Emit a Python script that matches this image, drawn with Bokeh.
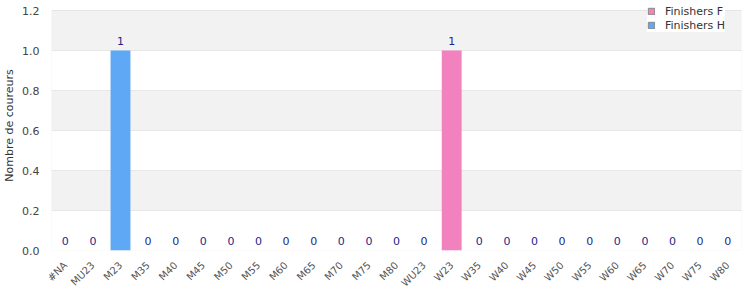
from bokeh.plotting import figure
from bokeh.models import (ColumnDataSource, FactorRange, Range1d, Legend, LegendItem, BoxAnnotation,
                          FixedTicker, NumeralTickFormatter)
from bokeh.core.properties import value
from bokeh.embed import file_html
from bokeh.resources import INLINE
import math

categories = ["#NA", "MU23", "M23", "M35", "M40", "M45", "M50", "M55", "M60", "M65", "M70", "M75", "M80",
              "WU23", "W23", "W35", "W40", "W45", "W50", "W55", "W60", "W65", "W70", "W75", "W80"]
finishers_h = [0, 0, 1, 0, 0, 0, 0, 0, 0, 0, 0, 0, 0, 0, 0, 0, 0, 0, 0, 0, 0, 0, 0, 0, 0]
finishers_f = [0, 0, 0, 0, 0, 0, 0, 0, 0, 0, 0, 0, 0, 0, 1, 0, 0, 0, 0, 0, 0, 0, 0, 0, 0]
y_ticks = [0.0, 0.2, 0.4, 0.6, 0.8, 1.0, 1.2]

totals = [h + f for h, f in zip(finishers_h, finishers_f)]
source = ColumnDataSource(dict(cat=categories, H=finishers_h, F=finishers_f,
                               total=totals, label=[str(t) for t in totals]))

p = figure(width=750, height=300, x_range=FactorRange(*categories, range_padding=0),
           y_range=Range1d(0, 1.25), output_backend="svg", toolbar_location=None,
           min_border_left=50, min_border_right=9, min_border_top=0, min_border_bottom=50)
# a range that maps none of the categories: used only by the legend swatch renderers
p.extra_x_ranges = {"legend": FactorRange(factors=["legend-only"])}

for lo, hi in [(0.2, 0.4), (0.6, 0.8), (1.0, 1.2)]:
    p.add_layout(BoxAnnotation(bottom=lo, top=hi, fill_color="#f2f2f2", fill_alpha=1, line_alpha=0, level="underlay"))
p.add_layout(BoxAnnotation(bottom=0, top=1.2, fill_alpha=0, line_color="#dddddd", line_width=1, level="underlay"))

r = p.vbar_stack(["H", "F"], x="cat", width=0.72, source=source,
                 fill_color=["#5fa8f5", "#f282bd"], line_color=None)

p.text(x="cat", y="total", text="label", source=source, text_align="center", text_baseline="bottom",
       y_offset=-6, text_font_size="11px", text_color="#1f1f8a", text_font=value("DejaVu Sans"))

lf = p.vbar(x="cat", top="F", width=0.72, source=source, x_range_name="legend",
            fill_color="#f282bd", line_color="#888888")
lh = p.vbar(x="cat", top="H", width=0.72, source=source, x_range_name="legend",
            fill_color="#5fa8f5", line_color="#888888")

p.yaxis.ticker = FixedTicker(ticks=y_ticks)
p.yaxis.formatter = NumeralTickFormatter(format="0.0")
p.yaxis.axis_label = "Nombre de coureurs"
p.yaxis.axis_label_text_font_size = "11px"
p.yaxis.axis_label_text_font_style = "normal"
p.yaxis.axis_label_text_color = "#333333"
p.yaxis.axis_label_text_font = "DejaVu Sans"
p.yaxis.axis_label_standoff = 3
p.yaxis.major_label_standoff = 6
for ax in [p.xaxis[0], p.yaxis[0]]:
    ax.axis_line_color = None
    ax.major_tick_line_color = None
    ax.minor_tick_line_color = None
    ax.major_label_text_font_size = "11px"
    ax.major_label_text_color = "#444444"
    ax.major_label_text_font = "DejaVu Sans"
p.xaxis.major_label_orientation = math.pi / 4
p.xaxis.major_label_text_font_size = "10px"
p.xaxis.major_label_text_color = "#555555"
p.xaxis.major_label_standoff = 7

p.xgrid.grid_line_color = None
p.ygrid.grid_line_color = "#dddddd"
p.outline_line_color = None
p.background_fill_color = "white"

legend = Legend(items=[LegendItem(label="Finishers F", renderers=[lf]),
                       LegendItem(label="Finishers H", renderers=[lh])],
                location=(596, 218), label_text_font_size="11px", label_text_color="#333333",
                label_text_font="DejaVu Sans", label_standoff=10,
                glyph_width=8, glyph_height=8, label_height=14, spacing=0, padding=5, margin=0,
                background_fill_color="white", background_fill_alpha=1, border_line_color=None)
p.add_layout(legend, "center")

open("out.html", "w").write(file_html(p, INLINE))
